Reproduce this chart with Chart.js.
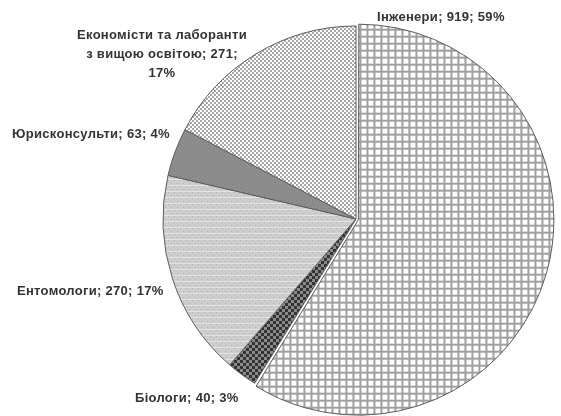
<!DOCTYPE html>
<html>
<head>
<meta charset="utf-8">
<script src="https://cdn.jsdelivr.net/npm/chart.js@4/dist/chart.umd.min.js"></script>
<style>
  html, body { margin: 0; padding: 0; background: #fff; }
  #wrap { width: 561px; height: 416px; }
</style>
</head>
<body>
<div id="wrap"><canvas id="pie"></canvas></div>
<script>
// staff by speciality
const categories = ['Інженери', 'Біологи', 'Ентомологи', 'Юрисконсульти', 'Економісти та лаборанти з вищою освітою'];
const counts = [919, 40, 270, 63, 271];

// label lines and their anchor points (x, y, align)
const labelLines = [
    ['Інженери; 919; 59%'],
    ['Біологи; 40; 3%'],
    ['Ентомологи; 270; 17%'],
    ['Юрисконсульти; 63; 4%'],
    ['Економісти та лаборанти', 'з вищою освітою; 271;', '17%']
];
const labelPos = [
    [377, 17, 'left'],
    [135, 398, 'left'],
    [17, 291, 'left'],
    [12, 134, 'left'],
    [162, 35, 'center']
];

// small bitmap fills
function makePattern(size, bg, draw) {
    const c = document.createElement('canvas');
    c.width = size; c.height = size;
    const g = c.getContext('2d');
    g.fillStyle = bg;
    g.fillRect(0, 0, size, size);
    draw(g);
    return g.createPattern(c, 'repeat');
}

const gridFill = makePattern(7, '#ffffff', g => {
    g.fillStyle = '#a0a0a0';
    g.fillRect(0, 0, 7, 2);
    g.fillRect(0, 0, 2, 7);
});
const darkChecker = makePattern(6, '#8a8a8a', g => {
    g.fillStyle = '#333333';
    g.fillRect(0, 0, 3, 3);
    g.fillRect(3, 3, 3, 3);
});
const lightDots = makePattern(6, '#cdcdcd', g => {
    g.fillStyle = '#b4b4b4';
    g.fillRect(0, 0, 1, 1);
    g.fillRect(3, 3, 1, 1);
    g.fillStyle = '#e4e4e4';
    g.fillRect(0, 5, 6, 1);
});
const midGray = makePattern(4, '#8e8e8e', g => {
    g.fillStyle = '#7c7c7c';
    g.fillRect(0, 0, 1, 1);
    g.fillRect(2, 2, 1, 1);
});
const lightChecker = makePattern(4, '#ffffff', g => {
    g.fillStyle = '#a6a6a6';
    g.fillRect(0, 0, 2, 2);
    g.fillRect(2, 2, 2, 2);
});

const fills = [gridFill, darkChecker, lightDots, midGray, lightChecker];

const sliceLabels = {
    id: 'sliceLabels',
    afterDatasetsDraw(chart) {
        const ctx = chart.ctx;
        ctx.save();
        ctx.fillStyle = '#333333';
        ctx.font = 'bold 13px "Liberation Sans", Arial, sans-serif';
        ctx.letterSpacing = '0.3px';
        ctx.textBaseline = 'middle';
        labelLines.forEach((lines, i) => {
            const [x, y, align] = labelPos[i];
            ctx.textAlign = align;
            lines.forEach((t, k) => ctx.fillText(t, x, y + k * 19));
        });
        ctx.restore();
    }
};

new Chart(document.getElementById('pie'), {
    type: 'pie',
    data: {
        labels: categories,
        datasets: [{
            data: counts,
            backgroundColor: fills,
            borderColor: '#5c5c5c',
            borderWidth: 1,
            offset: [10, 0, 0, 0, 0],
            radius: 193
        }]
    },
    options: {
        responsive: true,
        maintainAspectRatio: false,
        animation: false,
        layout: { padding: { left: 158, right: 7, top: 22, bottom: 0 } },
        plugins: {
            legend: { display: false },
            tooltip: { enabled: false }
        }
    },
    plugins: [sliceLabels]
});
</script>
</body>
</html>
